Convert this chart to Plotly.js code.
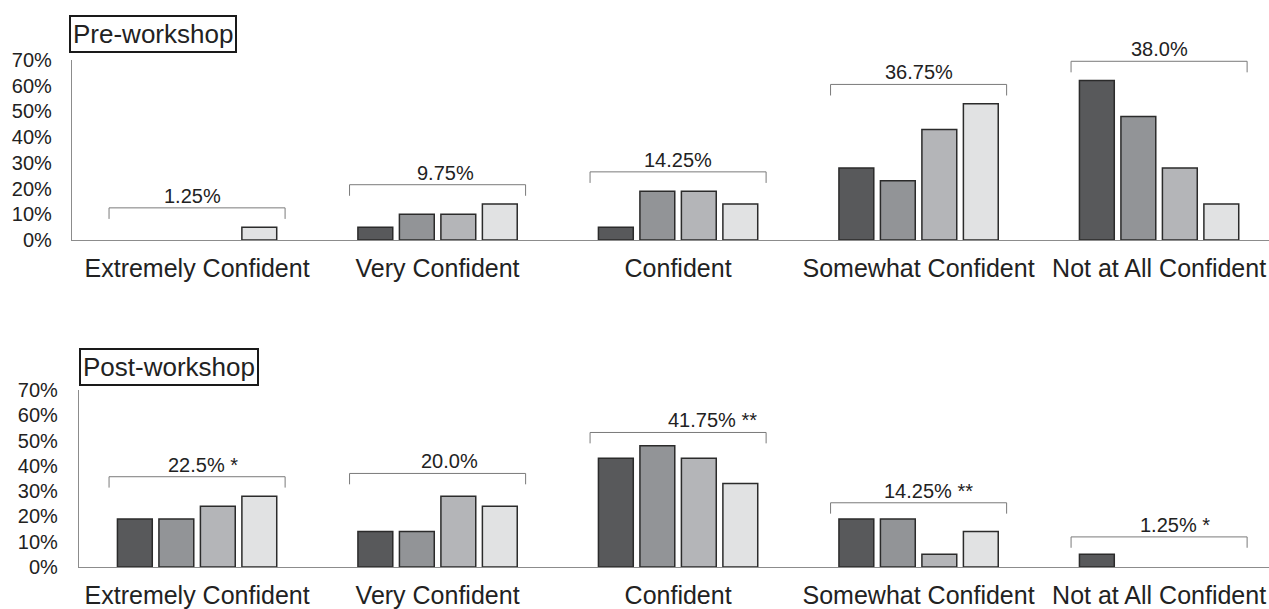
<!DOCTYPE html>
<html>
<head>
<meta charset="utf-8">
<script src="https://cdn.plot.ly/plotly-3.0.1.min.js"></script>
<style>
html,body{margin:0;padding:0;background:#fff;}
#chart{width:1269px;height:609px;}
</style>
</head>
<body>
<div id="chart"></div>
<script>
// ---- data ----
var categories = ["Extremely Confident", "Very Confident", "Confident", "Somewhat Confident", "Not at All Confident"];
var tickValues = [0, 10, 20, 30, 40, 50, 60, 70];
var tickLabels = ["0%", "10%", "20%", "30%", "40%", "50%", "60%", "70%"];

var pre1 = [0, 5, 5, 28, 62];
var pre2 = [0, 10, 19, 23, 48];
var pre3 = [0, 10, 19, 43, 28];
var pre4 = [5, 14, 14, 53, 14];

var post1 = [19, 14, 43, 19, 5];
var post2 = [19, 14, 48, 19, 0];
var post3 = [24, 28, 43, 5, 0];
var post4 = [28, 24, 33, 14, 0];

var preLabels = ["1.25%", "9.75%", "14.25%", "36.75%", "38.0%"];
var postLabels = ["22.5% *", "20.0%", "41.75% **", "14.25% **", "1.25% *"];

var panelTitles = ["Pre-workshop", "Post-workshop"];

// ---- layout config (positions / styles) ----
var W = 1269, H = 609;
var colors = ["#58595b", "#929497", "#b4b5b8", "#e1e2e3"];
var barLine = "#2b2b2b";
var axisColor = "#8c8c8c";
var bracketColor = "#7a7a7a";
var textColor = "#222222";
var font = "Liberation Sans, Arial, Helvetica, sans-serif";
var prePad = [7.5, 7.5, 7.5, 7.5, 7.5];
var postPad = [7.7, 9, 5.2, 6.4, 6.9];
var postLabelShift = [6, 12, 34, 10, 16];
var preLabelShift = [-5, 8, 0, 0, 0];
var bracketHalf = 0.366;
var tickDrop = 4.3;

var idx = categories.map(function (c, i) { return i; });
function nz(a) { return a.map(function (v) { return v === 0 ? null : v; }); }

var traces = [];
[[pre1, pre2, pre3, pre4], [post1, post2, post3, post4]].forEach(function (set, p) {
  set.forEach(function (s, k) {
    traces.push({
      type: "bar",
      x: idx,
      y: nz(s),
      xaxis: p === 0 ? "x" : "x2",
      yaxis: p === 0 ? "y" : "y2",
      marker: { color: colors[k], line: { color: barLine, width: 1.5 } },
      showlegend: false,
      hoverinfo: "y"
    });
  });
});

var shapes = [];
var annotations = [];
function addBrackets(set, labels, pads, shifts, xr, yr) {
  categories.forEach(function (c, i) {
    var mx = Math.max(set[0][i], set[1][i], set[2][i], set[3][i]);
    var top = mx + pads[i];
    var bot = top - tickDrop;
    var x0 = i - bracketHalf, x1 = i + bracketHalf;
    var ln = { color: bracketColor, width: 1 };
    shapes.push({ type: "line", xref: xr, yref: yr, x0: x0, x1: x1, y0: top, y1: top, line: ln });
    shapes.push({ type: "line", xref: xr, yref: yr, x0: x0, x1: x0, y0: bot, y1: top, line: ln });
    shapes.push({ type: "line", xref: xr, yref: yr, x0: x1, x1: x1, y0: bot, y1: top, line: ln });
    annotations.push({
      xref: xr, yref: yr, x: i, y: top, text: labels[i], showarrow: false,
      xanchor: "center", yanchor: "bottom", xshift: shifts[i], yshift: -1,
      font: { family: font, size: 20, color: textColor }
    });
  });
}
addBrackets([pre1, pre2, pre3, pre4], preLabels, prePad, preLabelShift, "x", "y");
addBrackets([post1, post2, post3, post4], postLabels, postPad, postLabelShift, "x2", "y2");

annotations.push({
  xref: "paper", yref: "paper", x: 69 / W, y: 1 - 15 / H, xanchor: "left", yanchor: "top",
  text: panelTitles[0], showarrow: false, bordercolor: "#1a1a1a", borderwidth: 2, borderpad: 2,
  bgcolor: "#ffffff", font: { family: font, size: 26, color: textColor }
});
annotations.push({
  xref: "paper", yref: "paper", x: 79 / W, y: 1 - 348 / H, xanchor: "left", yanchor: "top",
  text: panelTitles[1], showarrow: false, bordercolor: "#1a1a1a", borderwidth: 2, borderpad: 2,
  bgcolor: "#ffffff", font: { family: font, size: 26, color: textColor }
});

function xAxis(domainLeft, range) {
  return {
    domain: [domainLeft, 1], range: range, type: "linear",
    tickmode: "array", tickvals: idx, ticktext: categories,
    showline: true, linecolor: axisColor, linewidth: 1.2,
    showgrid: false, zeroline: false, ticks: "",
    ticklabelstandoff: 6,
    tickfont: { family: font, size: 25, color: textColor },
    fixedrange: true
  };
}
function yAxis(domain, anchor, standoff) {
  return {
    domain: domain, range: [0, 70], anchor: anchor,
    tickmode: "array", tickvals: tickValues, ticktext: tickLabels,
    showline: true, linecolor: axisColor, linewidth: 1.2,
    showgrid: false, zeroline: false, ticks: "",
    ticklabelstandoff: standoff,
    tickfont: { family: font, size: 20, color: textColor },
    fixedrange: true
  };
}

var layout = {
  width: W, height: H,
  margin: { l: 0, r: 0, t: 0, b: 0 },
  paper_bgcolor: "#ffffff", plot_bgcolor: "#ffffff",
  barmode: "group", bargap: 0.31, bargroupgap: 0.16,
  xaxis: Object.assign(xAxis(72 / W, [-0.52, 4.457]), { anchor: "y" }),
  yaxis: yAxis([1 - 240 / H, 1 - 60 / H], "x", 15),
  xaxis2: Object.assign(xAxis(79 / W, [-0.491, 4.457]), { anchor: "y2" }),
  yaxis2: yAxis([1 - 567 / H, 1 - 390 / H], "x2", 16),
  shapes: shapes,
  annotations: annotations,
  font: { family: font, color: textColor }
};

Plotly.newPlot("chart", traces, layout, { displayModeBar: false, staticPlot: true });
</script>
</body>
</html>
